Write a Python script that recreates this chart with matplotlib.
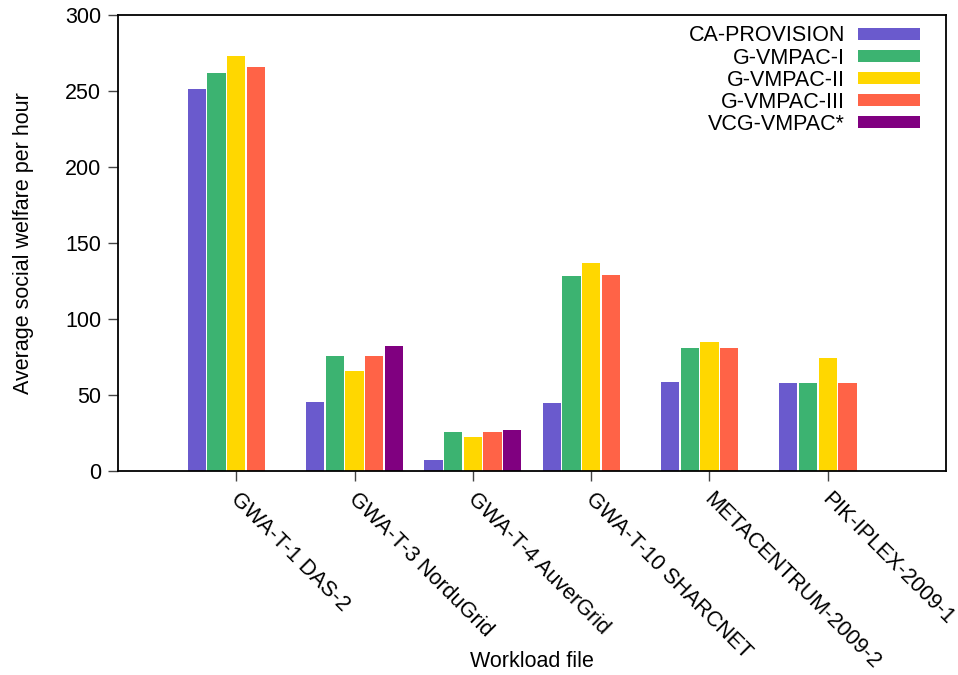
import numpy as np
import matplotlib
matplotlib.use('Agg')
import matplotlib.pyplot as plt
import matplotlib.transforms as mtransforms
from matplotlib.patches import Patch

plt.rcParams['font.family'] = ['Liberation Sans', 'DejaVu Sans']

# Dados
categorias = ['GWA-T-1 DAS-2', 'GWA-T-3 NorduGrid', 'GWA-T-4 AuverGrid',
              'GWA-T-10 SHARCNET', 'METACENTRUM-2009-2', 'PIK-IPLEX-2009-1']
series = ['CA-PROVISION', 'G-VMPAC-I', 'G-VMPAC-II', 'G-VMPAC-III', 'VCG-VMPAC*']
ca_provision = [251.3, 45.4, 7.2, 44.7, 58.6, 57.9]
g_vmpac_1 = [261.8, 75.7, 25.7, 128.3, 80.9, 57.9]
g_vmpac_2 = [273.0, 65.8, 22.4, 136.8, 84.9, 74.3]
g_vmpac_3 = [265.8, 75.7, 25.7, 128.9, 80.9, 57.9]
vcg_vmpac = [np.nan, 82.2, 27.0, np.nan, np.nan, np.nan]

valores = [ca_provision, g_vmpac_1, g_vmpac_2, g_vmpac_3, vcg_vmpac]
cores = ['#6A5ACD', '#3CB371', '#FFD700', '#FF6347', '#800080']
fs = 15.5

fig = plt.figure(figsize=(9.58, 6.75), dpi=100)
ax = fig.add_axes([118 / 958, 1 - 471 / 675, 828 / 958, 456 / 675])

x = np.arange(len(categorias))
passo = 0.1667
largura = 0.154
for i, (vals, cor) in enumerate(zip(valores, cores)):
    ax.bar(x + (i - 2) * passo, vals, width=largura, color=cor, linewidth=0)

ax.set_xlim(-1, 6)
ax.set_ylim(0, 300)
ax.set_yticks(range(0, 301, 50))
ax.set_xticks(x)
ax.set_xticklabels(categorias, rotation=-45, ha='left', va='top',
                   rotation_mode='anchor')

ax.tick_params(axis='both', direction='out', length=7, width=1,
               color='#444444', labelsize=fs, pad=5)
ax.tick_params(axis='x', pad=6)
# desloca os rotulos um pouco para a direita
desloc = mtransforms.ScaledTranslation(5 / 100, 0, fig.dpi_scale_trans)
for lbl in ax.get_xticklabels():
    lbl.set_transform(lbl.get_transform() + desloc)

for spine in ax.spines.values():
    spine.set_linewidth(1.3)
    spine.set_color('black')

ax.set_ylabel('Average social welfare per hour', fontsize=fs)
ax.yaxis.set_label_coords(-0.101, 0.5)
ax.set_xlabel('Workload file', fontsize=fs)
ax.xaxis.set_label_coords(0.5, -0.395)

# Legenda estilo gnuplot
handles = [Patch(facecolor=c, edgecolor='none') for c in cores]
leg = ax.legend(handles, series, loc='upper right', bbox_to_anchor=(0.969, 0.977),
                markerfirst=False, frameon=False, fontsize=fs,
                handlelength=2.9, handleheight=0.5, handletextpad=0.6,
                labelspacing=0.05, borderaxespad=0.0, borderpad=0.0)

fig.savefig('out.png', dpi=100)
